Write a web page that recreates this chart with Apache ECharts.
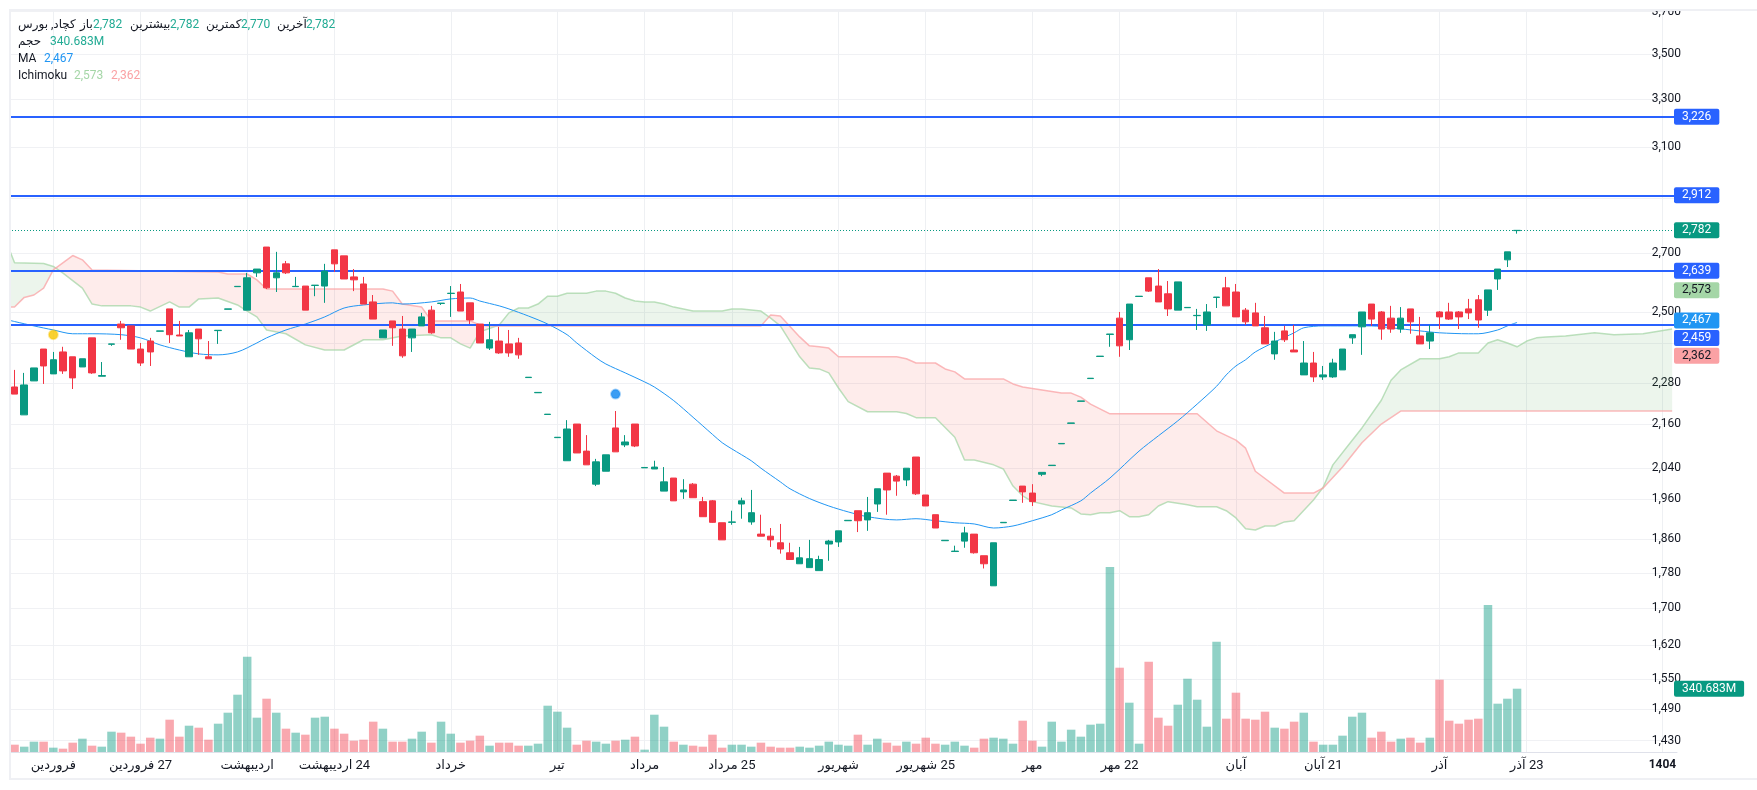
<!DOCTYPE html>
<html lang="fa">
<head>
<meta charset="UTF-8">
<title>کچاد</title>
<script src="https://cdn.jsdelivr.net/npm/echarts@6/dist/echarts.min.js"></script>
<style>
    html, body { margin: 0; padding: 0; background: #fff; }
    #chart { width: 1757px; height: 790px; }
</style>
</head>
<body>
<div id="chart"></div>
<script>
// one extra slot on the left, mostly hidden, because the indicator lines start before the first candle
const SLOTS = 173;

// candles (index = candle number)
const opens = [2268,2187,2286,2383,2307,2374,2359,2328,2418,2300,
  2398,2462,2456,2383,2408,2439,2511,2427,2359,2446,
  2359,2441,2510,2585,2507,2632,2722,2615,2663,2585,
  2587,2589,2587,2712,2691,2618,2594,2534,2418,2472,
  2446,2418,2456,2507,2529,2562,2567,2531,2462,2386,
  2408,2399,2402,2296,2251,2188,2123,2060,2161,2086,
  1998,2032,2150,2103,2161,2041,2038,1980,2014,1978,
  1998,1953,1955,1900,1901,1947,1902,1872,1867,1851,
  1827,1801,1792,1785,1848,1853,1905,1930,1907,1947,
  2027,2019,2009,2070,1970,1920,1856,1830,1855,1872,
  1820,1750,1900,1956,1993,1975,2024,2047,2106,2163,
  2226,2293,2360,2429,2481,2412,2552,2615,2587,2561,
  2507,2515,2489,2459,2549,2581,2567,2507,2498,2450,
  2368,2440,2380,2304,2340,2298,2298,2319,2418,2453,
  2527,2501,2481,2446,2511,2424,2408,2501,2501,2501,
  2511,2541,2507,2611,2677,2781];
const closes = [2247,2274,2325,2331,2350,2316,2295,2353,2310,2302,
  2399,2450,2383,2340,2374,2440,2428,2424,2434,2415,
  2353,2442,2511,2586,2615,2645,2581,2632,2632,2586,
  2507,2590,2638,2663,2611,2608,2527,2478,2443,2450,
  2362,2446,2485,2434,2530,2563,2504,2475,2402,2412,
  2371,2371,2365,2297,2252,2189,2124,2147,2081,2049,
  2057,2076,2084,2111,2100,2042,2043,2004,1955,1983,
  1963,1915,1901,1858,1902,1955,1925,1867,1858,1836,
  1811,1815,1813,1811,1855,1880,1906,1905,1925,1986,
  1983,2006,2040,1973,1942,1887,1857,1831,1875,1827,
  1801,1851,1901,1957,1978,1953,2029,2048,2107,2164,
  2227,2294,2361,2430,2393,2527,2553,2570,2534,2511,
  2601,2516,2490,2501,2550,2521,2485,2469,2456,2399,
  2408,2412,2374,2340,2298,2304,2340,2383,2428,2501,
  2478,2446,2446,2481,2469,2399,2434,2485,2478,2485,
  2498,2475,2574,2645,2705,2782];
const lows = [2247,2187,2286,2277,2307,2307,2262,2328,2307,2300,
  2393,2412,2383,2331,2331,2439,2402,2424,2359,2365,
  2353,2399,2510,2585,2507,2618,2577,2567,2628,2585,
  2507,2553,2531,2635,2611,2570,2527,2478,2418,2393,
  2356,2374,2456,2431,2524,2485,2504,2462,2402,2380,
  2368,2359,2353,2296,2251,2188,2123,2060,2081,2049,
  1993,2032,2084,2097,2097,2041,2038,1980,1955,1960,
  1963,1915,1900,1858,1895,1910,1895,1867,1841,1825,
  1811,1801,1792,1785,1808,1841,1905,1877,1880,1927,
  1920,1968,1993,1970,1942,1887,1856,1830,1839,1825,
  1790,1750,1900,1956,1950,1942,2019,2047,2106,2163,
  2226,2293,2360,2390,2359,2380,2552,2567,2534,2488,
  2507,2515,2443,2440,2514,2521,2485,2459,2456,2399,
  2350,2405,2374,2304,2283,2289,2295,2319,2399,2365,
  2456,2412,2434,2434,2431,2399,2383,2446,2475,2446,
  2478,2450,2488,2574,2652,2770];
const highs = [2319,2310,2325,2383,2374,2390,2359,2353,2418,2343,
  2399,2472,2456,2402,2418,2440,2511,2472,2443,2446,
  2408,2442,2511,2586,2632,2645,2722,2705,2673,2618,
  2587,2590,2663,2712,2691,2645,2618,2557,2443,2472,
  2488,2446,2498,2521,2530,2587,2594,2531,2462,2469,
  2453,2443,2418,2297,2252,2189,2124,2172,2161,2130,
  2065,2076,2198,2130,2161,2042,2060,2043,2014,2011,
  2001,1965,1957,1900,1930,1963,1983,1920,1887,1897,
  1851,1841,1858,1820,1858,1880,1906,1930,1965,1986,
  2027,2022,2040,2070,1970,1920,1857,1844,1890,1872,
  1820,1851,1901,1957,1993,1998,2029,2048,2107,2164,
  2227,2294,2361,2430,2501,2527,2553,2615,2645,2604,
  2601,2516,2511,2527,2550,2618,2594,2514,2531,2488,
  2437,2456,2459,2408,2374,2331,2353,2383,2428,2501,
  2527,2504,2521,2517,2511,2485,2459,2504,2531,2504,
  2544,2557,2574,2645,2705,2782];

// volume in millions, with the colour of each bar
const volumes = [39.4,28.7,55.6,55.6,23.3,17.9,50.2,71.7,34.1,28.7,
  109.4,104,82.5,44.8,77.1,71.7,173.9,82.5,141.6,130.9,
  66.3,152.4,211.6,308.4,512.8,184.7,286.9,211.6,125.5,104,
  93.2,184.7,190,125.5,98.6,61,66.3,163.2,125.5,55.6,
  55.6,71.7,109.4,50.2,163.2,98.6,50.2,61,87.9,34.1,
  50.2,50.2,34.1,34.1,44.8,249.2,217,130.9,39.4,61,
  55.6,44.8,61,66.3,82.5,12.6,200.8,136.3,55.6,39.4,
  34.1,28.7,93.2,23.3,39.4,39.4,28.7,50.2,28.7,23.3,
  23.3,28.7,23.3,34.1,55.6,39.4,34.1,93.2,39.4,71.7,
  50.2,34.1,55.6,44.8,77.1,44.8,39.4,55.6,34.1,23.3,
  71.7,77.1,71.7,44.8,168.5,61,28.7,163.2,55.6,120.1,
  82.5,147,152.4,995,453.6,265.4,44.8,485.9,184.7,141.6,
  254.6,394.4,281.5,136.3,593.5,179.3,319.2,179.3,173.9,217,
  130.9,125.5,163.2,211.6,55.6,39.4,39.4,87.9,190,211.6,
  77.1,109.4,55.6,71.7,77.1,50.2,77.1,389.1,168.5,152.4,
  173.9,179.3,790.7,260,286.9,340.683];
const volumeSides = ('rggrgrrgrg' + 'grrrrgrrgr' + 'rgggggrgrg' + 'rggrrrrrgr' + 'rggrggrrrg' +
  'rrrgggggrr' + 'ggrgrgggrg' + 'rrrrgggrrr' + 'rggggggrgg' + 'rrgrrrgggr' +
  'rgggrrgggg' + 'ggggrggrrr' + 'gggggrrrrr' + 'grrgrggggg' + 'rrrgrrgrrr' + 'rrgggg');

// moving average and the two cloud lines: [slot, price] at the corners of each line
const maLine = [[-1,2478],[0,2470],[2,2456],[4,2443],[6,2431],[8,2431],[11,2428],[13,2418],[15,2396],[17,2380],[19,2368],
  [21,2365],[23,2374],[25,2402],[26,2418],[28,2443],[30,2462],[32,2485],[34,2514],[36,2524],[39,2531],
  [40,2527],[43,2534],[45,2544],[47,2547],[48,2537],[50,2521],[51,2511],[53,2488],[55,2462],[57,2428],
  [58,2402],[60,2356],[61,2337],[63,2310],[65,2283],[66,2268],[68,2228],[70,2180],[72,2132],[73,2109],
  [74,2092],[76,2060],[77,2040],[79,2004],[80,1986],[82,1961],[84,1942],[86,1927],[88,1915],[91,1907],
  [93,1910],[95,1905],[97,1900],[99,1897],[101,1887],[103,1892],[105,1905],[107,1920],[108,1932],[110,1955],
  [111,1975],[113,2014],[116,2086],[118,2128],[120,2170],[122,2218],[124,2270],[125,2304],[126,2331],[127,2350],
  [128,2374],[130,2405],[132,2434],[133,2450],[135,2456],[138,2456],[140,2456],[142,2450],[145,2440],[147,2434],
  [150,2431],[151,2431],[153,2443],[154,2456],[155,2467]];
const leadA = [[-1,2754],[0,2667],[3,2664],[4,2654],[5,2631],[7,2580],[8,2527],[9,2521],[12,2521],[13,2517],[14,2504],
  [16,2534],[17,2517],[18,2517],[19,2544],[21,2547],[23,2524],[24,2504],[25,2485],[26,2443],[28,2431],
  [30,2396],[32,2380],[34,2380],[36,2412],[38,2412],[40,2424],[43,2428],[44,2418],[45,2418],[46,2399],
  [47,2386],[48,2437],[50,2459],[51,2498],[52,2514],[53,2514],[54,2527],[55,2553],[56,2553],[57,2563],
  [59,2563],[60,2570],[61,2570],[62,2563],[63,2547],[64,2537],[65,2534],[66,2534],[67,2527],[68,2517],
  [70,2504],[73,2504],[74,2511],[75,2511],[77,2504],[78,2481],[79,2456],[81,2359],[82,2325],[83,2322],
  [84,2310],[85,2265],[86,2225],[88,2196],[91,2196],[92,2191],[93,2179],[95,2179],[97,2124],[98,2062],
  [99,2062],[101,2049],[102,2038],[103,1993],[104,1968],[105,1953],[107,1942],[109,1937],[110,1922],[111,1920],
  [112,1925],[113,1925],[114,1930],[115,1915],[116,1915],[117,1920],[118,1942],[119,1953],[121,1945],[122,1940],
  [124,1940],[125,1930],[126,1912],[127,1885],[128,1882],[129,1892],[130,1892],[131,1902],[132,1905],[134,1957],
  [135,1990],[136,2049],[138,2116],[139,2150],[141,2229],[142,2288],[143,2319],[145,2353],[147,2353],[148,2359],
  [149,2371],[151,2371],[152,2402],[153,2412],[154,2402],[155,2390],[156,2408],[157,2418],[158,2421],[160,2424],
  [163,2434],[165,2428],[168,2431],[171,2446]];
const leadB = [[-1,2517],[0,2517],[1,2549],[2,2557],[3,2580],[4,2642],[6,2692],[7,2677],[8,2642],[21,2635],[22,2628],
  [24,2628],[25,2608],[26,2577],[38,2577],[39,2570],[40,2527],[42,2517],[43,2472],[47,2472],[48,2459],
  [49,2456],[50,2456],[77,2456],[78,2491],[79,2488],[81,2421],[82,2393],[83,2390],[84,2386],[85,2359],
  [91,2359],[92,2353],[93,2340],[95,2340],[96,2322],[97,2313],[98,2292],[102,2292],[103,2277],[104,2268],
  [106,2259],[108,2250],[109,2250],[110,2238],[111,2218],[113,2190],[122,2190],[124,2142],[126,2116],[127,2094],
  [128,2032],[131,1975],[134,1975],[135,1988],[137,2043],[139,2109],[141,2161],[143,2198],[171,2198]];
// slot ranges between the crossings of the two cloud lines; true = leadA on top
const cloudRanges = [[-1,4,true],[4,50,false],[50,78,true],[78,135,false],[135,171,true]];

const levels = [3226,2912,2639,2459];
const lastPrice = 2782;
const lastVolume = 340.683;
const lastMa = 2467;
const lastLeadA = 2573;
const lastLeadB = 2362;
const yellowDot = [4,2428];
const blueDot = [62,2247];

const priceTicks = [3700,3500,3300,3100,2900,2700,2500,2400,2280,2160,2040,1960,1860,1780,1700,1620,1550,1490,1430];
const priceLabels = [3700,3500,3300,3100,2700,2500,2280,2160,2040,1960,1860,1780,1700,1620,1550,1490,1430];
const dateSlots = [4,13,24,33,45,56,65,74,85,94,105,114,126,135,147,156,170];
const dateLabels = ['فروردین','27 فروردین','اردیبهشت','24 اردیبهشت','خرداد','تیر','مرداد','25 مرداد','شهریور','25 شهریور','مهر','22 مهر','آبان','21 آبان','آذر','23 آذر','1404'];

const GREEN = '#089981', RED = '#F23645', BLUE = '#2962FF', MA_BLUE = '#2196F3';
const CLEAR = 'rgba(0,0,0,0)';
const fmt = v => Number(v).toLocaleString('en-US');
const font = '12px Roboto, "DejaVu Sans", sans-serif';
const toSlot = p => [p[0] + 1, p[1]];

function tag(value, bg, color, offset, text) {
    return {
        yAxis: value,
        label: {
            show: true, position: 'end', distance: -3, formatter: text || fmt(value),
            backgroundColor: bg, color: color, padding: [2, 8, 2, 8], borderRadius: 2,
            fontSize: 12, fontFamily: 'Roboto', offset: offset || [0, 0]
        }
    };
}

function headerText(text, x, y, color) {
    return { type: 'text', x: x, y: y + 1.5, z: 200, style: { text: text, fill: color, font: font, textVerticalAlign: 'middle' } };
}

const chart = echarts.init(document.getElementById('chart'));
chart.setOption({
    animation: false,
    backgroundColor: '#fff',
    textStyle: { fontFamily: 'Roboto' },
    grid: { left: -1.05, right: 80, top: 10, bottom: 38 },
    xAxis: {
        type: 'category',
        data: Array.from({ length: SLOTS }, (_, i) => String(i)),
        axisLine: { lineStyle: { color: '#dfe1ea' } },
        axisTick: { show: false, alignWithLabel: true, interval: i => dateSlots.includes(i - 1) },
        axisLabel: {
            interval: i => dateSlots.includes(i - 1),
            // the marks make the day number sit on the right of the month, as in RTL text
            formatter: (v, i) => {
                const text = dateLabels[dateSlots.indexOf(i - 1)];
                return text === '1404' ? '{year|1404}' : '\u200f' + text;
            },
            color: '#131722', fontSize: 13, margin: 7, hideOverlap: false,
            fontFamily: 'Roboto, "DejaVu Sans"',
            rich: { year: { fontWeight: 'bold', fontSize: 12, color: '#131722', fontFamily: 'Roboto' } }
        },
        splitLine: {
            show: true, alignWithLabel: true, interval: i => dateSlots.includes(i - 1),
            lineStyle: { color: '#eef0f3', width: 1 }
        }
    },
    yAxis: [{
        type: 'log',
        min: 1409, max: 3708,
        position: 'right',
        axisLine: { show: false },
        axisTick: { show: false, customValues: priceTicks },
        axisLabel: {
            inside: true, margin: -4, customValues: priceLabels,
            formatter: fmt, color: '#131722', fontSize: 12
        },
        splitLine: { show: true, lineStyle: { color: '#f0f1f4', width: 1 } }
    }, {
        type: 'value', min: 0, max: 3993, show: false, splitLine: { show: false }
    }],
    series: [{
        type: 'custom',
        z: 1,
        silent: true,
        encode: { x: 0 },
        data: cloudRanges.map(r => [r[0] + 1, r[1] + 1, r[2] ? 1 : 0]),
        renderItem(params, api) {
            const r = cloudRanges[params.dataIndex];
            const top = leadA.filter(p => p[0] >= r[0] && p[0] <= r[1]);
            const bottom = leadB.filter(p => p[0] >= r[0] && p[0] <= r[1]).reverse();
            return {
                type: 'polygon',
                shape: { points: top.concat(bottom).map(p => api.coord(toSlot(p))) },
                style: { fill: r[2] ? 'rgba(67,160,71,0.1)' : 'rgba(244,67,54,0.1)' }
            };
        }
    }, {
        type: 'line', z: 2, data: leadA.map(toSlot), showSymbol: false, silent: true,
        lineStyle: { color: '#A5D6A7', width: 1.5, opacity: 0.75 }
    }, {
        type: 'line', z: 2, data: leadB.map(toSlot), showSymbol: false, silent: true,
        lineStyle: { color: '#FAA1A4', width: 1.5, opacity: 0.75 }
    }, {
        type: 'bar', yAxisIndex: 1, z: 2, barWidth: 8.5, silent: true,
        data: ['-'].concat(volumes.map((v, i) => ({
            value: v,
            itemStyle: { color: volumeSides[i] === 'g' ? 'rgba(8,153,129,0.45)' : 'rgba(242,54,69,0.43)' }
        }))),
        markLine: {
            silent: true, symbol: 'none', animation: false,
            lineStyle: { color: CLEAR },
            data: [tag(lastVolume, GREEN, '#fff', null, lastVolume + 'M')]
        }
    }, {
        type: 'line', z: 3, data: maLine.map(toSlot), showSymbol: false, smooth: 0.3, silent: true,
        lineStyle: { color: MA_BLUE, width: 1 },
        markLine: {
            silent: true, symbol: 'none', animation: false,
            lineStyle: { color: BLUE, width: 2, type: 'solid' },
            data: [
                tag(levels[0], BLUE, '#fff'),
                tag(levels[1], BLUE, '#fff'),
                tag(levels[2], BLUE, '#fff'),
                tag(levels[3], BLUE, '#fff', [0, 13]),
                {
                    yAxis: lastPrice,
                    lineStyle: { color: GREEN, width: 1, type: [1, 2] },
                    label: tag(lastPrice, GREEN, '#fff').label
                },
                {
                    yAxis: lastMa,
                    lineStyle: { color: CLEAR },
                    label: tag(lastMa, MA_BLUE, '#fff', [0, -2]).label
                },
                {
                    yAxis: lastLeadA,
                    lineStyle: { color: CLEAR },
                    label: tag(lastLeadA, '#A5D6A7', '#131722').label
                },
                {
                    yAxis: lastLeadB,
                    lineStyle: { color: CLEAR },
                    label: tag(lastLeadB, '#FAA1A4', '#131722').label
                }
            ]
        }
    }, {
        type: 'candlestick', z: 5, barWidth: 7, silent: true,
        data: [['-', '-', '-', '-']].concat(opens.map((o, i) => [o, closes[i], lows[i], highs[i]])),
        itemStyle: { color: GREEN, color0: RED, borderColor: GREEN, borderColor0: RED, borderWidth: 1 }
    }, {
        type: 'scatter', z: 6, symbolSize: 9, silent: true,
        data: [
            { value: toSlot(yellowDot), itemStyle: { color: '#F7C600', borderColor: 'rgba(247,198,0,0.45)', borderWidth: 2 } },
            { value: toSlot(blueDot), itemStyle: { color: '#0A84F0', borderColor: 'rgba(10,132,240,0.45)', borderWidth: 2 } }
        ]
    }],
    graphic: [
        { type: 'rect', z: 190, shape: { x: 0, y: 0, width: 1757, height: 9 }, style: { fill: '#fff' } },
        { type: 'rect', z: 190, shape: { x: 0, y: 0, width: 9, height: 790 }, style: { fill: '#fff' } },
        { type: 'line', z: 191, shape: { x1: 9, y1: 10, x2: 1757, y2: 10 }, style: { stroke: '#eff0f4', lineWidth: 2 } },
        { type: 'line', z: 191, shape: { x1: 10, y1: 10, x2: 10, y2: 780 }, style: { stroke: '#eff0f4', lineWidth: 2 } },
        { type: 'line', z: 191, shape: { x1: 9, y1: 779, x2: 1757, y2: 779 }, style: { stroke: '#eff0f4', lineWidth: 2 } },
        headerText('کچاد, بورس', 18, 23.5, '#131722'),
        headerText('باز', 80, 23.5, '#131722'),
        headerText('2,782', 93, 23.5, '#22AB94'),
        headerText('بیشترین', 130, 23.5, '#131722'),
        headerText('2,782', 170, 23.5, '#22AB94'),
        headerText('کمترین', 206, 23.5, '#131722'),
        headerText('2,770', 241, 23.5, '#22AB94'),
        headerText('آخرین', 277, 23.5, '#131722'),
        headerText('2,782', 306, 23.5, '#22AB94'),
        headerText('حجم', 18, 40.5, '#131722'),
        headerText('340.683M', 50, 40.5, '#22AB94'),
        headerText('MA', 18, 57, '#131722'),
        headerText('2,467', 44, 57, MA_BLUE),
        headerText('Ichimoku', 18, 74, '#131722'),
        headerText('2,573', 74, 74, '#A5D6A7'),
        headerText('2,362', 111, 74, '#FAA1A4')
    ]
});
</script>
</body>
</html>
